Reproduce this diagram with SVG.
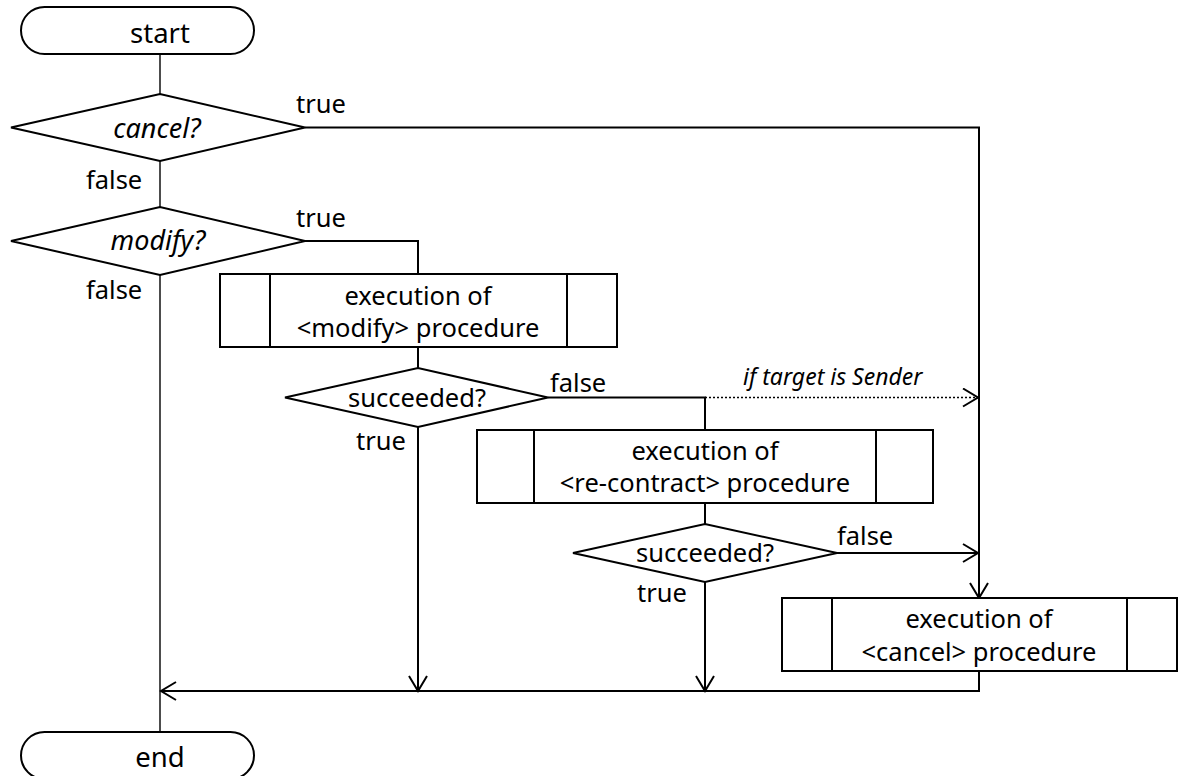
<svg xmlns="http://www.w3.org/2000/svg" width="1181" height="776" viewBox="0 0 1181 776">
  <style>
    .shape { fill: #fff; stroke: #000; stroke-width: 2; }
    .line { fill: none; stroke: #000; stroke-width: 2; }
    .thin { fill: none; stroke: #000; stroke-width: 1.4; }
    .dot { fill: none; stroke: #000; stroke-width: 1.5; stroke-dasharray: 2 2; }
    text { font-family: "Noto Sans", "Open Sans", sans-serif; font-size: 25.5px; fill: #000; }
    .c { text-anchor: middle; }
    .it { font-style: italic; font-size: 27px; }
    .small { font-size: 23px; }
    .term { font-size: 27.5px; }
  </style>
  <defs>
    <marker id="arrow" viewBox="0 0 20 20" refX="18" refY="10" markerWidth="20" markerHeight="20" markerUnits="userSpaceOnUse" orient="auto">
      <path d="M3,1 L18,10 L3,19" fill="none" stroke="#000" stroke-width="2"/>
    </marker>
  </defs>

  <!-- connectors -->
  <g id="connectors">
    <line class="thin" x1="160" y1="54" x2="160" y2="94"/>
    <line class="thin" x1="160" y1="161" x2="160" y2="207"/>
    <line class="thin" x1="160" y1="275" x2="160" y2="732"/>
    <!-- cancel? true -->
    <polyline class="line" points="305,127.5 979,127.5 979,598" marker-end="url(#arrow)"/>
    <!-- modify? true -->
    <polyline class="line" points="305,241 418,241 418,274"/>
    <line class="line" x1="418" y1="347" x2="418" y2="368"/>
    <!-- succeeded (modify) true -->
    <line class="line" x1="418" y1="427" x2="418" y2="691" marker-end="url(#arrow)"/>
    <!-- succeeded (modify) false -->
    <polyline class="line" points="548,397.5 705,397.5 705,430"/>
    <line class="dot" x1="705" y1="397.5" x2="978" y2="397.5" marker-end="url(#arrow)"/>
    <line class="line" x1="705" y1="503" x2="705" y2="524"/>
    <!-- succeeded (re-contract) -->
    <line class="line" x1="837" y1="553" x2="978" y2="553" marker-end="url(#arrow)"/>
    <line class="line" x1="705" y1="582" x2="705" y2="691" marker-end="url(#arrow)"/>
    <!-- cancel procedure to merge -->
    <polyline class="line" points="979,671 979,691 161,691" marker-end="url(#arrow)"/>
  </g>

  <g id="start">
    <rect class="shape" x="21" y="7" width="233" height="47" rx="23.5"/>
    <text class="c term" x="160" y="43">start</text>
  </g>

  <g id="cancel-check">
    <polygon class="shape" points="11,127.5 160,94 305,127.5 160,161"/>
    <text class="c it" x="157" y="138">cancel?</text>
    <text x="296" y="113">true</text>
    <text x="86" y="189">false</text>
  </g>

  <g id="modify-check">
    <polygon class="shape" points="11,241 160,207 305,241 160,275"/>
    <text class="c it" x="158" y="250">modify?</text>
    <text x="296" y="227">true</text>
    <text x="86" y="299">false</text>
  </g>

  <g id="modify-proc">
    <rect class="shape" x="220" y="274" width="397" height="73"/>
    <line class="line" x1="270" y1="274" x2="270" y2="347"/>
    <line class="line" x1="567" y1="274" x2="567" y2="347"/>
    <text class="c" x="418" y="305">execution of</text>
    <text class="c" x="418" y="337">&lt;modify&gt; procedure</text>
  </g>

  <g id="modify-result">
    <polygon class="shape" points="285,397.5 418,368 548,397.5 418,427"/>
    <text class="c" x="417" y="407">succeeded?</text>
    <text x="356" y="450">true</text>
    <text x="550" y="392">false</text>
    <text class="it small" x="743" y="385">if target is Sender</text>
  </g>

  <g id="recontract-proc">
    <rect class="shape" x="477" y="430" width="456" height="73"/>
    <line class="line" x1="534" y1="430" x2="534" y2="503"/>
    <line class="line" x1="876" y1="430" x2="876" y2="503"/>
    <text class="c" x="705" y="460">execution of</text>
    <text class="c" x="705" y="492">&lt;re-contract&gt; procedure</text>
  </g>

  <g id="recontract-result">
    <polygon class="shape" points="573,553 705,524 837,553 705,582"/>
    <text class="c" x="705" y="562">succeeded?</text>
    <text x="837" y="545">false</text>
    <text x="637" y="602">true</text>
  </g>

  <g id="cancel-proc">
    <rect class="shape" x="782" y="598" width="395" height="73"/>
    <line class="line" x1="832" y1="598" x2="832" y2="671"/>
    <line class="line" x1="1127" y1="598" x2="1127" y2="671"/>
    <text class="c" x="979" y="628">execution of</text>
    <text class="c" x="979" y="661">&lt;cancel&gt; procedure</text>
  </g>

  <g id="end">
    <rect class="shape" x="21" y="732" width="233" height="47" rx="23.5"/>
    <text class="c term" x="160" y="767">end</text>
  </g>
</svg>
